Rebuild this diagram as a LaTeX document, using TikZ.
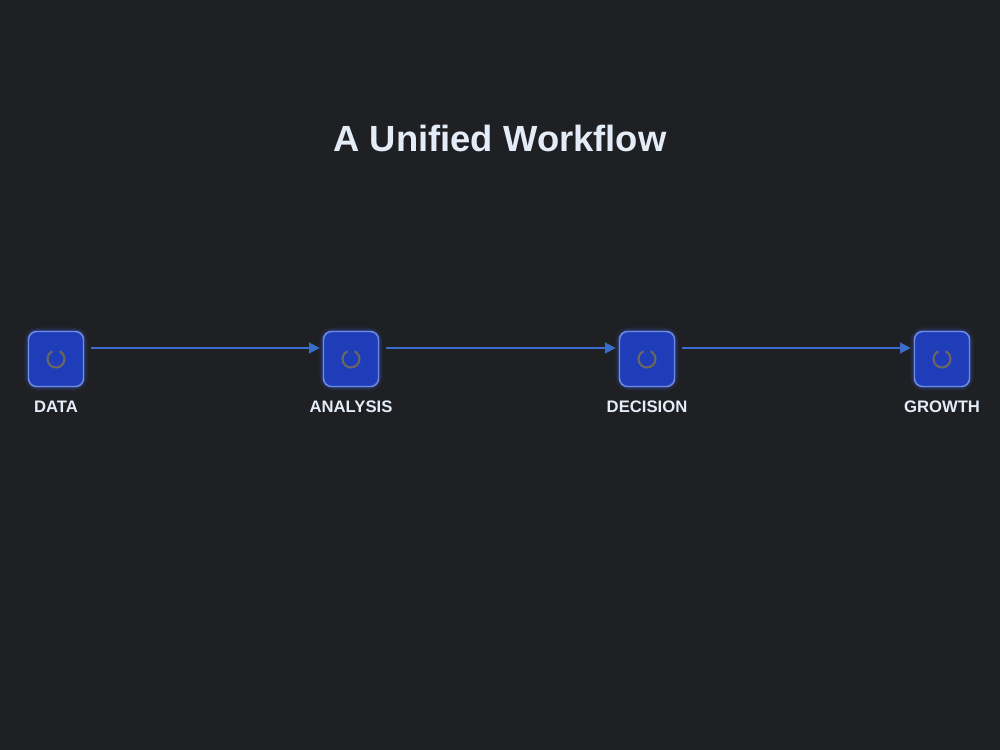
\documentclass[tikz,border=0pt]{standalone}
\usepackage{fontspec}
\setmainfont{Liberation Sans}
\usetikzlibrary{arrows.meta}
\definecolor{bgcol}{HTML}{1F2023}
\definecolor{boxfill}{HTML}{1F3DB8}
\definecolor{boxedge}{HTML}{6F8BE3}
\definecolor{glowcol}{HTML}{3D63D8}
\definecolor{linkcol}{HTML}{3A6CCB}
\definecolor{spincol}{HTML}{6B6662}
\definecolor{textcol}{HTML}{E4ECF8}
\begin{document}
\begin{tikzpicture}[x=0.75pt,y=-0.75pt,
  stagebox/.style={draw=boxedge,line width=1.1pt,fill=boxfill,rounded corners=6pt,
    minimum width=55*0.75pt,minimum height=55*0.75pt,inner sep=0pt},
  glow/.style={draw=glowcol,rounded corners=7pt,minimum width=55*0.75pt,
    minimum height=55*0.75pt,inner sep=0pt},
  stagelabel/.style={text=textcol,font=\bfseries\fontsize{12.5}{14}\selectfont},
  link/.style={draw=linkcol,line width=1.5pt,-{Triangle[length=8pt,width=8pt]}},
  spinner/.style={draw=spincol,line width=1.6pt}]
  % canvas
  \fill[bgcol] (0,0) rectangle (1000,750);
  \useasboundingbox (0,0) rectangle (1000,750);

  % heading
  \node[text=textcol,font=\bfseries\fontsize{27.3}{32}\selectfont] (title) at (500,138) {A Unified Workflow};

  % stages
  \foreach \name/\cx/\lbl in {data/56/DATA, analysis/351/ANALYSIS, decision/647/DECISION, growth/942/GROWTH}{
    \foreach \w/\op in {7/0.07,5/0.10,3/0.16,1.8/0.25}{
      \node[glow,line width=\w pt,draw opacity=\op] at (\cx,359) {};
    }
    \node[stagebox] (\name) at (\cx,359) {};
    \draw[spinner] ([shift={(115:8.5*0.75pt)}]\name.center) arc[start angle=115,end angle=425,radius=8.5*0.75pt];
    \node[stagelabel] (\name-lbl) at (\cx,407) {\lbl};
  }

  % connectors, running just above the box centres
  \draw[link] ([shift={(7*0.75pt,11*0.75pt)}]data.east) -- ([shift={(-3*0.75pt,11*0.75pt)}]analysis.west);
  \draw[link] ([shift={(7*0.75pt,11*0.75pt)}]analysis.east) -- ([shift={(-3*0.75pt,11*0.75pt)}]decision.west);
  \draw[link] ([shift={(7*0.75pt,11*0.75pt)}]decision.east) -- ([shift={(-3*0.75pt,11*0.75pt)}]growth.west);
\end{tikzpicture}
\end{document}
